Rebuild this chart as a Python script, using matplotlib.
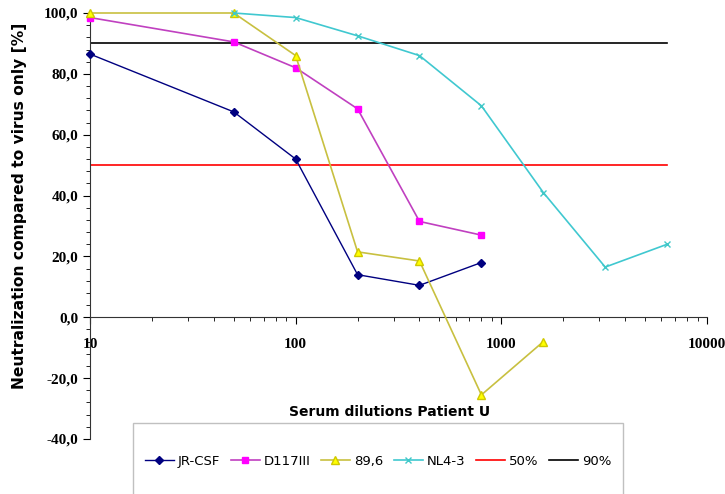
import numpy as np
import matplotlib
matplotlib.use("Agg")
import matplotlib.pyplot as plt
from matplotlib.patches import Rectangle

# data
dil_jr = [10, 50, 100, 200, 400, 800]
jr_csf = [86.5, 67.5, 52.0, 14.0, 10.5, 18.0]

dil_d117 = [10, 50, 100, 200, 400, 800]
d117iii = [98.5, 90.5, 82.0, 68.5, 31.5, 27.0]

dil_896 = [10, 50, 100, 200, 400, 800, 1600]
v89_6 = [100.0, 100.0, 86.0, 21.5, 18.5, -25.5, -8.0]

dil_nl = [50, 100, 200, 400, 800, 1600, 3200, 6400]
nl4_3 = [100.0, 98.5, 92.5, 86.0, 69.5, 41.0, 16.5, 24.0]

ref_x = [10, 6400]
ref50 = [50, 50]
ref90 = [90, 90]

fig = plt.figure(figsize=(7.25, 4.94), dpi=100)
ax = fig.add_axes([90/725, 1-439/494, (707-90)/725, (439-13)/494])

ax.plot(ref_x, ref50, color='#FF0000', lw=1.2, label='50%', zorder=2)
ax.plot(ref_x, ref90, color='#000000', lw=1.2, label='90%', zorder=2)
ax.plot(dil_jr, jr_csf, color='#000080', lw=1, marker='D', ms=4, mfc='#000080', mec='#000080',
        label='JR-CSF', clip_on=False, zorder=3)
ax.plot(dil_d117, d117iii, color='#C040C0', lw=1.2, marker='s', ms=5, mfc='#FF00FF', mec='#FF00FF',
        label='D117III', clip_on=False, zorder=3)
ax.plot(dil_896, v89_6, color='#C8C040', lw=1.2, marker='^', ms=6, mfc='#FFFF00', mec='#D0C800',
        label='89,6', clip_on=False, zorder=3)
ax.plot(dil_nl, nl4_3, color='#40C8D0', lw=1.2, marker='x', ms=5, mec='#40C8C8',
        label='NL4-3', clip_on=False, zorder=3)

ax.set_xscale('log')
ax.set_xlim(10, 10000)
ax.set_ylim(-40, 100)
ax.spines['top'].set_visible(False)
ax.spines['right'].set_visible(False)
ax.spines['bottom'].set_position(('data', 0))
ax.spines['bottom'].set_color('#333333')
ax.spines['left'].set_color('#333333')

yt = np.arange(-40, 101, 20)
ax.set_yticks(yt)
ax.set_yticks(np.arange(-40, 101, 4), minor=True)
ax.set_yticklabels([('%.1f' % v).replace('.', ',') for v in yt])
ax.set_xticks([10, 100, 1000, 10000])
ax.set_xticklabels(['10', '100', '1000', '10000'])
ax.tick_params(axis='both', which='major', direction='out', length=5, labelsize=11)
ax.tick_params(axis='both', which='minor', direction='out', length=3)
ax.tick_params(axis='x', which='major', pad=10)
for lab in ax.get_xticklabels() + ax.get_yticklabels():
    lab.set_family('Liberation Serif')
    lab.set_fontweight('bold')

ax.set_ylabel('Neutralization compared to virus only [%]', fontsize=11.2, fontweight='bold')
ax.yaxis.set_label_coords(-63/617, (439-206)/426)
fig.text(390/725, 1-412/494, 'Serum dilutions Patient U', ha='center', va='center',
         fontsize=10, fontweight='bold')

# legend box
fig.patches.append(Rectangle((133/725, -0.05), (623-133)/725, 0.05+(494-423)/494,
                             transform=fig.transFigure, fill=False, ec='#C0C0C0', lw=1))
handles, labels = ax.get_legend_handles_labels()
order = [2, 3, 4, 5, 0, 1]
fig.legend([handles[i] for i in order], [labels[i] for i in order],
           loc='center', bbox_to_anchor=(378/725, 1-461/494), ncol=6, frameon=False,
           fontsize=9.5, handlelength=2.2, columnspacing=0.8, handletextpad=0.3)

fig.savefig('out.png', dpi=100)
